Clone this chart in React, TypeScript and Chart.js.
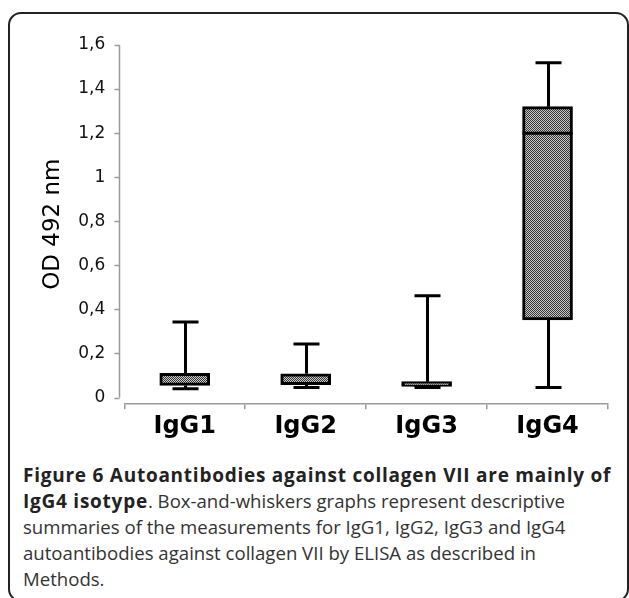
import React, { useEffect, useRef } from "react";
import { Chart, registerables } from "chart.js";

Chart.register(...registerables);

const categories = ["IgG1", "IgG2", "IgG3", "IgG4"];
const whiskerMin = [0.04, 0.045, 0.045, 0.045];
const q1 = [0.055, 0.058, 0.05, 0.352];
const medians: (number | null)[] = [null, null, null, 1.2];
const q3 = [0.11, 0.108, 0.072, 1.32];
const whiskerMax = [0.343, 0.243, 0.462, 1.52];
const yTickValues = [0, 0.2, 0.4, 0.6, 0.8, 1, 1.2, 1.4, 1.6];
const yTitle = "OD 492 nm";

const captionLines = [
  { bold: "Figure 6 Autoantibodies against collagen VII are mainly of", rest: "" },
  { bold: "IgG4 isotype", rest: ". Box-and-whiskers graphs represent descriptive" },
  { bold: "", rest: "summaries of the measurements for IgG1, IgG2, IgG3 and IgG4" },
  { bold: "", rest: "autoantibodies against collagen VII by ELISA as described in" },
  { bold: "", rest: "Methods." },
];

function makePattern(): CanvasPattern | string {
  const c = document.createElement("canvas");
  c.width = 2;
  c.height = 2;
  const g = c.getContext("2d");
  if (!g) return "#888";
  g.fillStyle = "#cccccc";
  g.fillRect(0, 0, 2, 2);
  g.fillStyle = "#333333";
  g.fillRect(0, 0, 1, 1);
  g.fillRect(1, 1, 1, 1);
  const p = g.createPattern(c, "repeat");
  return p || "#888";
}

const boxPlugin = {
  id: "boxWhiskers",
  beforeDatasetsDraw(chart: any) {
    const { ctx } = chart;
    const y = chart.scales.y;
    const meta = chart.getDatasetMeta(0);
    ctx.save();
    ctx.strokeStyle = "#000";
    ctx.lineWidth = 3;
    ctx.lineCap = "butt";
    categories.forEach((_, i) => {
      const el = meta.data[i];
      if (!el) return;
      const x = Math.round(el.x) + 0.5;
      const capHalf = 13;
      const pMax = y.getPixelForValue(whiskerMax[i]);
      const pQ3 = y.getPixelForValue(q3[i]);
      const pQ1 = y.getPixelForValue(q1[i]);
      const pMin = y.getPixelForValue(whiskerMin[i]);
      ctx.beginPath();
      ctx.moveTo(x, pMax);
      ctx.lineTo(x, pQ3);
      ctx.moveTo(x, pQ1);
      ctx.lineTo(x, pMin);
      ctx.moveTo(x - capHalf, pMax);
      ctx.lineTo(x + capHalf, pMax);
      ctx.moveTo(x - capHalf, pMin);
      ctx.lineTo(x + capHalf, pMin);
      ctx.stroke();
    });
    ctx.restore();
  },
  afterDatasetsDraw(chart: any) {
    const { ctx } = chart;
    const y = chart.scales.y;
    const meta = chart.getDatasetMeta(0);
    ctx.save();
    ctx.strokeStyle = "#000";
    ctx.lineWidth = 3;
    categories.forEach((_, i) => {
      const m = medians[i];
      const el = meta.data[i];
      if (m == null || !el) return;
      const half = el.width / 2;
      const pm = y.getPixelForValue(m);
      ctx.beginPath();
      ctx.moveTo(el.x - half, pm);
      ctx.lineTo(el.x + half, pm);
      ctx.stroke();
    });
    ctx.restore();
  },
  afterDraw(chart: any) {
    const { ctx, chartArea } = chart;
    const y = chart.scales.y;
    const ax = Math.round(chartArea.left - 5) + 0.5;
    ctx.save();
    ctx.strokeStyle = "#9a9a9a";
    ctx.lineWidth = 1.5;
    ctx.beginPath();
    ctx.moveTo(ax, y.getPixelForValue(yTickValues[yTickValues.length - 1]));
    ctx.lineTo(ax, y.getPixelForValue(0));
    yTickValues.forEach((v) => {
      const py = Math.round(y.getPixelForValue(v)) + 0.5;
      ctx.moveTo(ax - 5, py);
      ctx.lineTo(ax, py);
    });
    ctx.stroke();
    ctx.restore();
  },
};

export default function App() {
  const ref = useRef<HTMLCanvasElement | null>(null);

  useEffect(() => {
    if (!ref.current) return;
    const pattern = makePattern();
    const chart = new Chart(ref.current, {
      type: "bar",
      data: {
        labels: categories,
        datasets: [
          {
            data: categories.map((_, i) => [q1[i], q3[i]]) as any,
            backgroundColor: pattern as any,
            borderColor: "#000",
            borderWidth: 3,
            borderSkipped: false,
            barThickness: 50,
          },
        ],
      },
      options: {
        responsive: false,
        animation: false,
        devicePixelRatio: 1,
        layout: { padding: { top: 45, right: 21, left: 0, bottom: 0 } },
        plugins: {
          legend: { display: false },
          tooltip: { enabled: false },
        },
        scales: {
          x: {
            afterFit(scale: any) {
              scale.height = 46.7;
            },
            grid: {
              display: true,
              drawOnChartArea: false,
              drawTicks: true,
              tickLength: 6,
              color: "#9a9a9a",
              lineWidth: 1.5,
              offset: true,
            },
            border: { display: true, color: "#9a9a9a", width: 1.5 },
            ticks: {
              color: "#000",
              padding: 3,
              font: { family: "DejaVu Sans", size: 24, weight: "bold" },
            },
          },
          y: {
            min: -0.0263,
            max: 1.6,
            afterFit(scale: any) {
              scale.width = 124.3;
            },
            afterBuildTicks(scale: any) {
              scale.ticks = yTickValues.map((v) => ({ value: v }));
            },
            grid: { display: false, drawTicks: false },
            border: { display: false },
            ticks: {
              color: "#111",
              padding: 19,
              font: { family: "DejaVu Sans", size: 17 },
              callback: (v: any) => String(Math.round(Number(v) * 10) / 10).replace(".", ","),
            },
            title: {
              display: true,
              text: yTitle,
              color: "#000",
              padding: { top: 39, bottom: 0 },
              font: { family: "DejaVu Sans", size: 23 },
            },
          },
        },
      },
      plugins: [boxPlugin],
    });
    return () => chart.destroy();
  }, []);

  return (
    <div
      style={{
        position: "absolute",
        left: 0,
        top: 0,
        width: 629,
        height: 598,
        overflow: "hidden",
        background: "#fff",
      }}
    >
      <div
        style={{
          position: "absolute",
          left: 8,
          top: 12,
          width: 621,
          height: 590,
          boxSizing: "border-box",
          border: "2px solid #222",
          borderRadius: 13,
        }}
      />
      <canvas
        ref={ref}
        width={629}
        height={450}
        style={{ position: "absolute", left: 0, top: 0, width: 629, height: 450 }}
      />
      <div
        style={{
          position: "absolute",
          left: 23,
          top: 462,
          fontFamily: "'Open Sans', sans-serif",
          fontSize: 18.6,
          lineHeight: "26px",
          color: "#333",
          whiteSpace: "nowrap",
        }}
      >
        {captionLines.map((l, i) => (
          <div key={i}>
            {l.bold ? (
              <b
                style={{
                  color: "#222",
                  fontSize: 19,
                  letterSpacing: i === 0 ? "0.75px" : "0.75px",
                }}
              >
                {l.bold}
              </b>
            ) : null}
            {l.rest}
          </div>
        ))}
      </div>
    </div>
  );
}
